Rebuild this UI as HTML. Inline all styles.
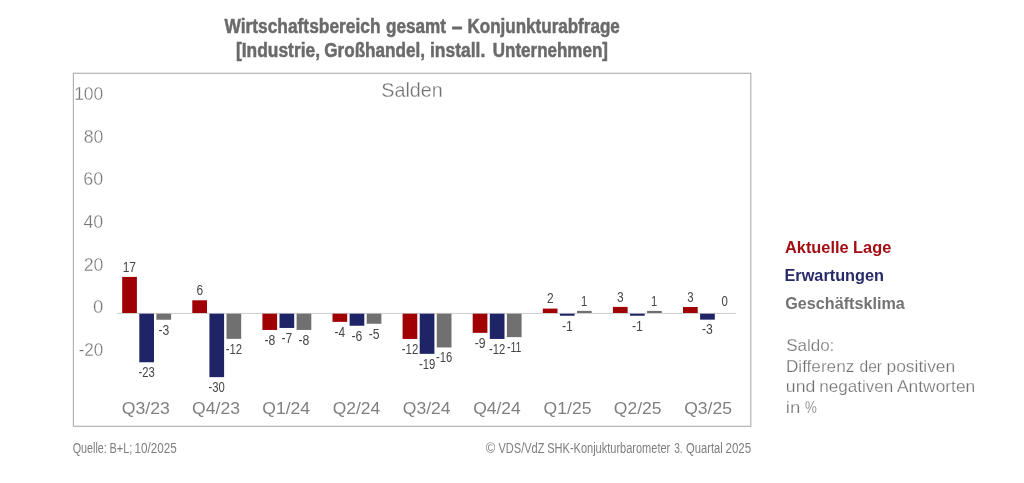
<!DOCTYPE html>
<html lang="de"><head><meta charset="utf-8"><title>Wirtschaftsbereich gesamt – Konjunkturabfrage</title>
<style>html,body{margin:0;padding:0;background:#fff}body{width:1024px;height:483px;overflow:hidden}svg{display:block}text{font-family:"Liberation Sans",sans-serif}</style></head><body>
<svg width="1024" height="483" viewBox="0 0 1024 483">
<rect x="0" y="0" width="1024" height="483" fill="#ffffff"/>
<rect x="73.4" y="73.3" width="677.4" height="353" fill="none" stroke="#b3b3b3" stroke-width="1.2"/>
<line x1="116.8" y1="313.4" x2="735.9" y2="313.4" stroke="#cccccc" stroke-width="1"/>
<rect x="122.20" y="276.90" width="14.70" height="36.10" fill="#a00004"/>
<rect x="139.30" y="313.70" width="14.70" height="48.55" fill="#1f2467"/>
<rect x="156.40" y="313.70" width="14.70" height="6.05" fill="#707070"/>
<rect x="192.30" y="300.30" width="14.70" height="12.70" fill="#a00004"/>
<rect x="209.40" y="313.70" width="14.70" height="63.45" fill="#1f2467"/>
<rect x="226.50" y="313.70" width="14.70" height="25.15" fill="#707070"/>
<rect x="262.40" y="313.70" width="14.70" height="16.25" fill="#a00004"/>
<rect x="279.50" y="313.70" width="14.70" height="14.25" fill="#1f2467"/>
<rect x="296.60" y="313.70" width="14.70" height="16.25" fill="#707070"/>
<rect x="332.50" y="313.70" width="14.70" height="8.15" fill="#a00004"/>
<rect x="349.60" y="313.70" width="14.70" height="12.05" fill="#1f2467"/>
<rect x="366.70" y="313.70" width="14.70" height="10.05" fill="#707070"/>
<rect x="402.60" y="313.70" width="14.70" height="25.25" fill="#a00004"/>
<rect x="419.70" y="313.70" width="14.70" height="40.15" fill="#1f2467"/>
<rect x="436.80" y="313.70" width="14.70" height="33.75" fill="#707070"/>
<rect x="472.70" y="313.70" width="14.70" height="19.15" fill="#a00004"/>
<rect x="489.80" y="313.70" width="14.70" height="25.25" fill="#1f2467"/>
<rect x="506.90" y="313.70" width="14.70" height="23.45" fill="#707070"/>
<rect x="542.80" y="308.60" width="14.70" height="4.40" fill="#a00004"/>
<rect x="559.90" y="313.70" width="14.70" height="2.05" fill="#1f2467"/>
<rect x="577.00" y="310.90" width="14.70" height="2.10" fill="#707070"/>
<rect x="612.90" y="306.90" width="14.70" height="6.10" fill="#a00004"/>
<rect x="630.00" y="313.70" width="14.70" height="2.05" fill="#1f2467"/>
<rect x="647.10" y="310.90" width="14.70" height="2.10" fill="#707070"/>
<rect x="683.00" y="307.00" width="14.70" height="6.00" fill="#a00004"/>
<rect x="700.10" y="313.70" width="14.70" height="5.95" fill="#1f2467"/>
<text y="32.50" font-size="19.6" font-weight="700" fill="#6a6a6a"><tspan id="t0" x="224.50" stroke="#6a6a6a" stroke-width="0.5" textLength="156.00" lengthAdjust="spacingAndGlyphs">Wirtschaftsbereich</tspan> <tspan id="t1" x="386.00" stroke="#6a6a6a" stroke-width="0.5" textLength="60.00" lengthAdjust="spacingAndGlyphs">gesamt</tspan> <tspan id="t2" x="451.99" stroke="#6a6a6a" stroke-width="0.9" textLength="10.26" lengthAdjust="spacingAndGlyphs">–</tspan> <tspan id="t3" x="467.49" stroke="#6a6a6a" stroke-width="0.5" textLength="152.26" lengthAdjust="spacingAndGlyphs">Konjunkturabfrage</tspan></text>
<text y="57.40" font-size="19.6" font-weight="700" fill="#6a6a6a"><tspan id="t4" x="235.98" stroke="#6a6a6a" stroke-width="0.5" textLength="84.03" lengthAdjust="spacingAndGlyphs">[Industrie,</tspan> <tspan id="t5" x="324.24" stroke="#6a6a6a" stroke-width="0.5" textLength="100.77" lengthAdjust="spacingAndGlyphs">Großhandel,</tspan> <tspan id="t6" x="429.96" stroke="#6a6a6a" stroke-width="0.5" textLength="55.32" lengthAdjust="spacingAndGlyphs">install.</tspan> <tspan id="t7" x="492.74" stroke="#6a6a6a" stroke-width="0.5" textLength="115.27" lengthAdjust="spacingAndGlyphs">Unternehmen]</tspan></text>
<text id="t8" x="381.20" y="97.30" font-size="21" font-weight="400" fill="#727272" stroke="#fff" stroke-width="0.3" textLength="61.61" lengthAdjust="spacingAndGlyphs">Salden</text>
<text id="t9" x="74.14" y="99.80" font-size="17.9" font-weight="400" fill="#767676" stroke="#fff" stroke-width="0.3" textLength="29.17" lengthAdjust="spacingAndGlyphs">100</text>
<text id="t10" x="83.68" y="142.70" font-size="17.9" font-weight="400" fill="#767676" stroke="#fff" stroke-width="0.3" textLength="19.64" lengthAdjust="spacingAndGlyphs">80</text>
<text id="t11" x="83.39" y="185.30" font-size="17.9" font-weight="400" fill="#767676" stroke="#fff" stroke-width="0.3" textLength="19.94" lengthAdjust="spacingAndGlyphs">60</text>
<text id="t12" x="83.46" y="228.00" font-size="17.9" font-weight="400" fill="#767676" stroke="#fff" stroke-width="0.3" textLength="19.85" lengthAdjust="spacingAndGlyphs">40</text>
<text id="t13" x="83.66" y="270.80" font-size="17.9" font-weight="400" fill="#767676" stroke="#fff" stroke-width="0.3" textLength="19.67" lengthAdjust="spacingAndGlyphs">20</text>
<text id="t14" x="93.08" y="312.90" font-size="17.9" font-weight="400" fill="#767676" stroke="#fff" stroke-width="0.3" textLength="10.33" lengthAdjust="spacingAndGlyphs">0</text>
<text id="t15" x="78.68" y="355.70" font-size="17.9" font-weight="400" fill="#767676" stroke="#fff" stroke-width="0.3" textLength="24.63" lengthAdjust="spacingAndGlyphs">-20</text>
<text y="414.20" font-size="16.8" font-weight="400" fill="#808080"><tspan id="t16" x="121.73" textLength="48.05" lengthAdjust="spacingAndGlyphs">Q3/23</tspan> <tspan id="t17" x="192.12" textLength="47.80" lengthAdjust="spacingAndGlyphs">Q4/23</tspan> <tspan id="t18" x="262.27" textLength="47.79" lengthAdjust="spacingAndGlyphs">Q1/24</tspan> <tspan id="t19" x="332.68" textLength="47.53" lengthAdjust="spacingAndGlyphs">Q2/24</tspan> <tspan id="t20" x="402.83" textLength="47.79" lengthAdjust="spacingAndGlyphs">Q3/24</tspan> <tspan id="t21" x="473.23" textLength="47.53" lengthAdjust="spacingAndGlyphs">Q4/24</tspan> <tspan id="t22" x="543.63" textLength="47.79" lengthAdjust="spacingAndGlyphs">Q1/25</tspan> <tspan id="t23" x="613.78" textLength="47.79" lengthAdjust="spacingAndGlyphs">Q2/25</tspan> <tspan id="t24" x="684.18" textLength="47.79" lengthAdjust="spacingAndGlyphs">Q3/25</tspan></text>
<text id="t25" x="785.00" y="253.10" font-size="16.5" font-weight="700" fill="#a30d14" textLength="106.26" lengthAdjust="spacingAndGlyphs">Aktuelle Lage</text>
<text id="t26" x="784.48" y="281.10" font-size="16.5" font-weight="700" fill="#262a66" textLength="99.54" lengthAdjust="spacingAndGlyphs">Erwartungen</text>
<text id="t27" x="785.25" y="309.00" font-size="16.5" font-weight="700" fill="#737373" textLength="119.50" lengthAdjust="spacingAndGlyphs">Geschäftsklima</text>
<text id="t28" x="786.19" y="351.00" font-size="16.4" font-weight="400" fill="#707070" stroke="#fff" stroke-width="0.25" textLength="48.15" lengthAdjust="spacingAndGlyphs">Saldo:</text>
<text y="371.60" font-size="16.4" font-weight="400" fill="#707070"><tspan id="t29" x="785.95" stroke="#fff" stroke-width="0.25" textLength="68.33" lengthAdjust="spacingAndGlyphs">Differenz</tspan> <tspan id="t30" x="859.46" stroke="#fff" stroke-width="0.25" textLength="22.56" lengthAdjust="spacingAndGlyphs">der</tspan> <tspan id="t31" x="886.45" stroke="#fff" stroke-width="0.25" textLength="68.84" lengthAdjust="spacingAndGlyphs">positiven</tspan></text>
<text y="392.20" font-size="16.4" font-weight="400" fill="#707070"><tspan id="t32" x="785.89" stroke="#fff" stroke-width="0.25" textLength="29.48" lengthAdjust="spacingAndGlyphs">und</tspan> <tspan id="t33" x="819.20" stroke="#fff" stroke-width="0.25" textLength="74.09" lengthAdjust="spacingAndGlyphs">negativen</tspan> <tspan id="t34" x="896.99" stroke="#fff" stroke-width="0.25" textLength="78.28" lengthAdjust="spacingAndGlyphs">Antworten</tspan></text>
<text y="412.90" font-size="16.4" font-weight="400" fill="#707070"><tspan id="t35" x="785.76" stroke="#fff" stroke-width="0.25" textLength="14.47" lengthAdjust="spacingAndGlyphs">in</tspan> <tspan id="t36" x="804.95" stroke="#fff" stroke-width="0.25" textLength="11.86" lengthAdjust="spacingAndGlyphs">%</tspan></text>
<text y="452.50" font-size="14.7" font-weight="400" fill="#7e7e7e"><tspan id="t37" x="72.73" textLength="34.05" lengthAdjust="spacingAndGlyphs">Quelle:</tspan> <tspan id="t38" x="109.44" textLength="22.89" lengthAdjust="spacingAndGlyphs">B+L;</tspan> <tspan id="t39" x="134.47" textLength="42.30" lengthAdjust="spacingAndGlyphs">10/2025</tspan></text>
<text y="452.50" font-size="14.7" font-weight="400" fill="#7e7e7e"><tspan id="t40" x="485.74" textLength="9.53" lengthAdjust="spacingAndGlyphs">©</tspan> <tspan id="t41" x="498.50" textLength="46.00" lengthAdjust="spacingAndGlyphs">VDS/VdZ</tspan> <tspan id="t42" x="547.25" textLength="123.00" lengthAdjust="spacingAndGlyphs">SHK-Konjukturbarometer</tspan> <tspan id="t43" x="674.19" textLength="8.46" lengthAdjust="spacingAndGlyphs">3.</tspan> <tspan id="t44" x="685.98" textLength="36.80" lengthAdjust="spacingAndGlyphs">Quartal</tspan> <tspan id="t45" x="725.48" textLength="25.79" lengthAdjust="spacingAndGlyphs">2025</tspan></text>
<text id="t46" x="122.67" y="271.60" font-size="13.8" font-weight="400" fill="#454545" textLength="13.40" lengthAdjust="spacingAndGlyphs">17</text>
<text id="t47" x="138.48" y="377.00" font-size="13.8" font-weight="400" fill="#454545" textLength="16.29" lengthAdjust="spacingAndGlyphs">-23</text>
<text id="t48" x="158.45" y="334.50" font-size="13.8" font-weight="400" fill="#454545" textLength="10.84" lengthAdjust="spacingAndGlyphs">-3</text>
<text id="t49" x="196.42" y="295.00" font-size="13.8" font-weight="400" fill="#454545" textLength="6.67" lengthAdjust="spacingAndGlyphs">6</text>
<text id="t50" x="208.47" y="391.90" font-size="13.8" font-weight="400" fill="#454545" textLength="16.30" lengthAdjust="spacingAndGlyphs">-30</text>
<text id="t51" x="225.73" y="353.60" font-size="13.8" font-weight="400" fill="#454545" textLength="16.30" lengthAdjust="spacingAndGlyphs">-12</text>
<text id="t52" x="264.45" y="344.70" font-size="13.8" font-weight="400" fill="#454545" textLength="10.84" lengthAdjust="spacingAndGlyphs">-8</text>
<text id="t53" x="281.44" y="342.70" font-size="13.8" font-weight="400" fill="#454545" textLength="10.87" lengthAdjust="spacingAndGlyphs">-7</text>
<text id="t54" x="298.45" y="344.70" font-size="13.8" font-weight="400" fill="#454545" textLength="10.87" lengthAdjust="spacingAndGlyphs">-8</text>
<text id="t55" x="334.45" y="336.60" font-size="13.8" font-weight="400" fill="#454545" textLength="10.57" lengthAdjust="spacingAndGlyphs">-4</text>
<text id="t56" x="351.45" y="340.50" font-size="13.8" font-weight="400" fill="#454545" textLength="10.87" lengthAdjust="spacingAndGlyphs">-6</text>
<text id="t57" x="368.71" y="338.50" font-size="13.8" font-weight="400" fill="#454545" textLength="10.84" lengthAdjust="spacingAndGlyphs">-5</text>
<text id="t58" x="401.71" y="353.70" font-size="13.8" font-weight="400" fill="#454545" textLength="16.59" lengthAdjust="spacingAndGlyphs">-12</text>
<text id="t59" x="418.98" y="368.60" font-size="13.8" font-weight="400" fill="#454545" textLength="16.30" lengthAdjust="spacingAndGlyphs">-19</text>
<text id="t60" x="435.98" y="362.20" font-size="13.8" font-weight="400" fill="#454545" textLength="16.29" lengthAdjust="spacingAndGlyphs">-16</text>
<text id="t61" x="474.71" y="347.60" font-size="13.8" font-weight="400" fill="#454545" textLength="10.84" lengthAdjust="spacingAndGlyphs">-9</text>
<text id="t62" x="488.98" y="353.70" font-size="13.8" font-weight="400" fill="#454545" textLength="16.30" lengthAdjust="spacingAndGlyphs">-12</text>
<text id="t63" x="506.98" y="351.90" font-size="13.8" font-weight="400" fill="#454545" textLength="14.55" lengthAdjust="spacingAndGlyphs">-11</text>
<text id="t64" x="546.92" y="303.30" font-size="13.8" font-weight="400" fill="#454545" textLength="6.67" lengthAdjust="spacingAndGlyphs">2</text>
<text id="t65" x="561.95" y="330.50" font-size="13.8" font-weight="400" fill="#454545" textLength="10.84" lengthAdjust="spacingAndGlyphs">-1</text>
<text id="t66" x="581.08" y="305.60" font-size="13.8" font-weight="400" fill="#454545" textLength="6.27" lengthAdjust="spacingAndGlyphs">1</text>
<text id="t67" x="616.94" y="301.60" font-size="13.8" font-weight="400" fill="#454545" textLength="6.67" lengthAdjust="spacingAndGlyphs">3</text>
<text id="t68" x="631.94" y="330.50" font-size="13.8" font-weight="400" fill="#454545" textLength="10.87" lengthAdjust="spacingAndGlyphs">-1</text>
<text id="t69" x="651.11" y="305.60" font-size="13.8" font-weight="400" fill="#454545" textLength="6.25" lengthAdjust="spacingAndGlyphs">1</text>
<text id="t70" x="687.18" y="301.70" font-size="13.8" font-weight="400" fill="#454545" textLength="6.38" lengthAdjust="spacingAndGlyphs">3</text>
<text id="t71" x="701.95" y="334.40" font-size="13.8" font-weight="400" fill="#454545" textLength="10.87" lengthAdjust="spacingAndGlyphs">-3</text>
<text id="t72" x="721.45" y="306.30" font-size="13.8" font-weight="400" fill="#454545" textLength="6.36" lengthAdjust="spacingAndGlyphs">0</text>
</svg></body></html>
